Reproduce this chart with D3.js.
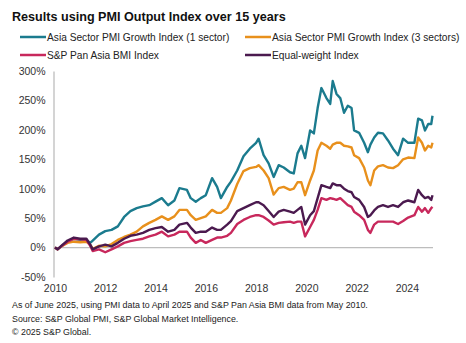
<!DOCTYPE html>
<html>
<head>
<meta charset="utf-8">
<script src="https://cdn.jsdelivr.net/npm/d3@7"></script>
<style>
  body { margin: 0; background: #fff; }
  svg { font-family: "Liberation Sans", Arial, sans-serif; display: block; }
  .tick text { fill: #333; font-size: 10.5px; }
</style>
</head>
<body>
<svg id="chart" width="466" height="343"></svg>
<script>
// decimal years of each reading
const dates = [
  2010.0, 2010.1, 2010.25, 2010.5, 2010.75, 2011.0, 2011.25, 2011.4, 2011.5, 2011.75,
  2012.0, 2012.25, 2012.5, 2012.75, 2013.0, 2013.25, 2013.5, 2013.75, 2014.0, 2014.25,
  2014.5, 2014.75, 2014.95, 2015.25, 2015.4, 2015.6, 2015.8, 2016.0, 2016.25, 2016.45,
  2016.6, 2016.85, 2017.0, 2017.25, 2017.5, 2017.75, 2018.0, 2018.1, 2018.3, 2018.5,
  2018.7, 2018.9, 2019.1, 2019.35, 2019.5, 2019.65, 2019.8, 2019.95, 2020.15, 2020.3,
  2020.45, 2020.6, 2020.8, 2020.95, 2021.05, 2021.2, 2021.35, 2021.5, 2021.65, 2021.8,
  2021.9, 2022.1, 2022.3, 2022.45, 2022.55, 2022.7, 2022.85, 2023.05, 2023.25, 2023.45,
  2023.65, 2023.85, 2024.05, 2024.3, 2024.45, 2024.6, 2024.72, 2024.85, 2024.97, 2025.02
];

const oneSector = [
  0, -3, 2, 10, 15, 13, 13, 8, 12, 22,
  28, 30, 36, 52, 62, 67, 70, 72, 78, 84,
  72, 80, 101, 98, 84, 78, 84, 89, 118, 103,
  84, 103, 112, 131, 155, 168, 178, 185, 157, 143,
  120, 140, 136, 128, 126, 160, 173, 152, 199, 194,
  237, 271, 254, 244, 283, 261, 254, 229, 241, 237,
  199, 195, 178, 162, 175, 187, 195, 194, 182, 168,
  157, 185, 178, 178, 219, 216, 199, 210, 210, 224
];

const threeSectors = [
  0, -3, 2, 8, 10, 9, 10, 5, -2, 3,
  2, 6, 13, 18, 22, 27, 36, 42, 47, 53,
  47, 53, 64, 64, 55, 47, 50, 53, 64, 59,
  59, 67, 80, 108, 130, 135, 137, 140, 131, 118,
  90, 101, 103, 98, 100, 111, 111, 89, 114, 131,
  165, 178, 173, 168, 175, 178, 178, 173, 172, 170,
  157, 152, 136, 114, 106, 131, 138, 140, 136, 135,
  140, 150, 153, 152, 187, 178, 165, 173, 170, 178
];

const panAsiaBmi = [
  0, -3, 2, 10, 15, 14, 13, 3, -6, -3,
  -8, -3, 2, 8, 11, 13, 15, 19, 22, 27,
  19, 22, 27, 27, 17, 8, 13, 8, 13, 17,
  17, 20, 25, 40, 47, 52, 55, 55, 52, 46,
  39, 42, 43, 44, 42, 44, 44, 19, 35, 47,
  64, 84, 81, 84, 83, 81, 84, 78, 72, 69,
  61, 55, 47, 30, 25, 39, 44, 44, 44, 44,
  40, 45, 51, 55, 69, 61, 67, 59, 67, 69
];

const equalWeight = [
  0, -3, 3, 12, 17, 15, 15, 5, -3, 2,
  5, 2, 8, 15, 20, 22, 25, 30, 33, 35,
  27, 30, 39, 42, 34, 25, 27, 27, 34, 30,
  30, 39, 45, 62, 67, 72, 77, 77, 72, 62,
  52, 61, 64, 61, 59, 64, 69, 39, 55, 62,
  84, 106, 103, 101, 109, 106, 106, 100, 96, 94,
  86, 81, 69, 52, 55, 63, 69, 72, 69, 72,
  69, 77, 80, 77, 98, 89, 84, 86, 81, 89
];

const seriesNames = [
  "Asia Sector PMI Growth Index (1 sector)",
  "Asia Sector PMI Growth Index (3 sectors)",
  "S&P Pan Asia BMI Index",
  "Equal-weight Index"
];
const seriesColors = ["#1b7b8e", "#e8901c", "#c8285c", "#4b1a4f"];

const yTicks = [-50, 0, 50, 100, 150, 200, 250, 300];
const xTicks = [2010, 2012, 2014, 2016, 2018, 2020, 2022, 2024];

const notes = [
  "As of June 2025, using PMI data to April 2025 and S&P Pan Asia BMI data from May 2010.",
  "Source: S&P Global PMI, S&P Global Market Intelligence.",
  "\u00A9 2025 S&P Global."
];

const svg = d3.select("#chart");

const x = d3.scaleLinear().domain([2010, 2025]).range([55, 432]);
const y = d3.scaleLinear().domain([-50, 300]).range([277, 71]);

// title
svg.append("text")
  .attr("x", 12).attr("y", 21)
  .attr("font-size", "12.6px").attr("font-weight", "bold").attr("fill", "#111")
  .text("Results using PMI Output Index over 15 years");

// legend, two columns
const legendPos = [[20, 37], [245, 37], [20, 55], [245, 55]];
seriesNames.forEach((name, i) => {
  const [lx, ly] = legendPos[i];
  svg.append("line")
    .attr("x1", lx).attr("x2", lx + 26).attr("y1", ly).attr("y2", ly)
    .attr("stroke", seriesColors[i]).attr("stroke-width", 2.5);
  svg.append("text")
    .attr("x", lx + 27).attr("y", ly + 4)
    .attr("font-size", "10.2px").attr("fill", "#222")
    .text(name);
});

// y axis
const yAxis = svg.append("g")
  .attr("transform", "translate(53.5,0)")
  .call(d3.axisLeft(y).tickValues(yTicks).tickSize(0).tickPadding(8).tickFormat(d => d + "%"));
yAxis.select(".domain").attr("stroke", "#bdbdbd").attr("stroke-width", 1.3);

// zero line
svg.append("line")
  .attr("x1", 54).attr("x2", 433)
  .attr("y1", y(0)).attr("y2", y(0))
  .attr("stroke", "#bdbdbd").attr("stroke-width", 1.3);

// x axis labels
const xAxis = svg.append("g")
  .attr("transform", `translate(0,${y(-50) + 4})`)
  .call(d3.axisBottom(x).tickValues(xTicks).tickSize(0).tickPadding(4).tickFormat(d3.format("d")));
xAxis.select(".domain").remove();

// lines
const allSeries = [oneSector, threeSectors, panAsiaBmi, equalWeight];
const line = d3.line()
  .x((d, i) => x(dates[i]))
  .y(d => y(d));

allSeries.forEach((vals, i) => {
  svg.append("path")
    .datum(vals)
    .attr("fill", "none")
    .attr("stroke", seriesColors[i])
    .attr("stroke-width", 2.4)
    .attr("stroke-linejoin", "round")
    .attr("d", line);
});

// footnotes
svg.append("g").selectAll("text")
  .data(notes)
  .join("text")
  .attr("x", 12)
  .attr("y", (d, i) => 308 + i * 13.5)
  .attr("font-size", "8.85px")
  .attr("fill", "#222")
  .text(d => d);
</script>
</body>
</html>
